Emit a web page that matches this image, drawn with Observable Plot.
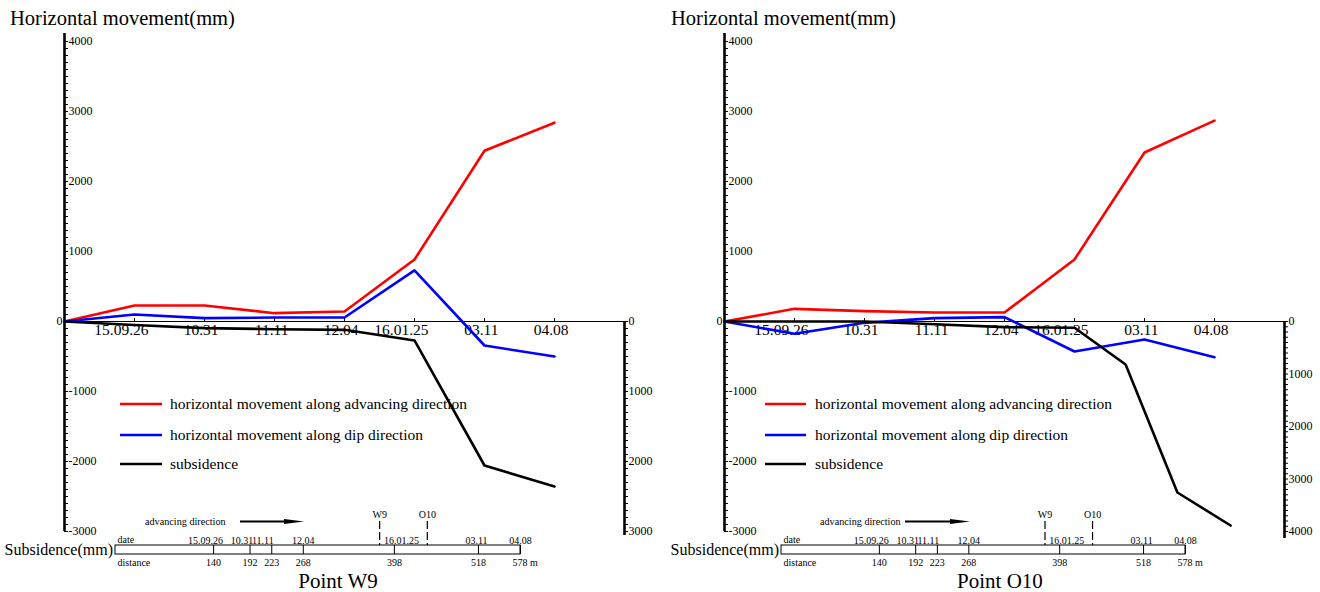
<!DOCTYPE html>
<html><head><meta charset="utf-8">
<script src="https://cdn.jsdelivr.net/npm/d3@7"></script>
<script src="https://cdn.jsdelivr.net/npm/@observablehq/plot@0.6"></script>
<style>
body{margin:0;background:#fff;}
#root{position:relative;width:1320px;height:592px;overflow:hidden;}
.panel{position:absolute;top:0;width:660px;height:592px;}
.panel svg{position:absolute;left:0;top:0;overflow:visible;max-width:none;}
</style></head><body><div id="root"></div>
<script>
// ---------- data ----------
const categories = ["", "15.09.26", "10.31", "11.11", "12.04", "16.01.25", "03.11", "04.08"];
const w9Advancing = [0, 229, 229, 119, 143, 885, 2440, 2840];
const w9Dip = [0, 100, 48, 57, 57, 730, -343, -500];
const w9SubsidencePos = [0, 1, 2, 3, 4, 5, 6, 7];
const w9Subsidence = [0, 50, 95, 110, 119, 271, 2057, 2357];
const o10Advancing = [0, 181, 148, 129, 129, 886, 2414, 2870];
const o10Dip = [0, -176, -19, 48, 62, -429, -257, -510];
const o10SubsidencePos = [0, 1, 2, 3, 4, 5, 5.73, 6.47, 7.23];
const o10Subsidence = [0, 0, 0, 51, 108, 120, 819, 3257, 3886];
const horizontalTicks = [-3000, -2000, -1000, 0, 1000, 2000, 3000, 4000];
const w9SubsidenceTicks = [0, 1000, 2000, 3000];
const o10SubsidenceTicks = [0, 1000, 2000, 3000, 4000];
const timelineDates = ["15.09.26", "10.31", "11.11", "12.04", "16.01.25", "03.11", "04.08"];
const timelineDistances = [140, 192, 223, 268, 398, 518, 578];
const markerNames = ["W9", "O10"];
const markerDistances = [377, 445];
const legendLabels = ["horizontal movement along advancing direction", "horizontal movement along dip direction", "subsidence"];
const seriesColors = ["#ff0000", "#0000ff", "#000000"];

// ---------- layout ----------
const FONT = '"Liberation Serif", "Times New Roman", serif';
const W = 660, H = 592;
const M = {left: 64, right: 36, top: 41, bottom: 61};
const TL = {markLabel: 514, markTop: 521, dateY: 540, barTop: 545, barBot: 554, distY: 562};
const dateLabelNudge = [-8, -8, -9, 0, 7, -2, 0]; // pixel nudges of the date labels above the timeline
const style = {fontFamily: FONT, fontSize: "12px", background: "transparent", overflow: "visible", color: "#000"};

function makePanel(cfg) {
  const div = document.createElement("div");
  div.className = "panel";
  div.style.left = cfg.offset + "px";
  document.getElementById("root").appendChild(div);
  const idx = d3.range(categories.length);
  const base = {width: W, height: H, marginLeft: M.left, marginRight: M.right, marginTop: M.top, marginBottom: M.bottom, style};

  const A = Plot.plot({
    ...base,
    x: {domain: [0, 8], axis: null},
    y: {domain: [-3000, 4000], axis: null},
    marks: [
      Plot.ruleY([0], {y: d => d, x1: () => 0, x2: () => 8, stroke: "#000", strokeWidth: 1}),
      Plot.ruleX(idx.slice(1), {x: d => d, y1: () => 0, y2: () => 0, insetTop: -3, stroke: "#000", strokeWidth: 1}),
      Plot.ruleY(d3.range(-3000, 4001, 100), {y: d => d, x1: () => 0, x2: () => 0, insetRight: -4, stroke: "#000", strokeWidth: 1}),
      Plot.ruleX([0], {x: d => d, y1: () => 4000, y2: () => -3000, insetTop: -8, stroke: "#000", strokeWidth: 2.6}),
      Plot.text(horizontalTicks.filter(t => t !== 0), {y: d => d, frameAnchor: "left", textAnchor: "start", dx: 4, text: d => String(d), fill: "#000", fontSize: 12}),
      Plot.text(horizontalTicks.filter(t => t === 0), {y: d => d, frameAnchor: "left", textAnchor: "end", dx: -2, text: d => String(d), fill: "#000", fontSize: 12}),
      Plot.text(categories.slice(1), {x: (d, i) => i + 1, y: () => 0, text: d => d, textAnchor: "end", dx: 14, lineAnchor: "top", dy: 2, fontSize: 15.5, fill: "#000"}),
      Plot.lineY(cfg.advancing, {x: (d, i) => i, y: d => d, stroke: seriesColors[0], strokeWidth: 2.6}),
      Plot.lineY(cfg.dip, {x: (d, i) => i, y: d => d, stroke: seriesColors[1], strokeWidth: 2.6})
    ]
  });
  div.appendChild(A);

  const yA = A.scale("y");
  const zeroPx = yA.apply(0), botPx = yA.apply(-3000);
  const B = Plot.plot({
    ...base,
    x: {domain: [0, 8], axis: null},
    y: {domain: [0, cfg.subMax], range: [zeroPx, botPx], axis: null},
    marks: [
      Plot.ruleX([8], {x: d => d, y1: () => 0, y2: () => cfg.subMax, insetBottom: -cfg.axisExt, stroke: "#000", strokeWidth: 2.6}),
      Plot.ruleY(d3.range(0, cfg.subMax + 1, 100), {y: d => d, x1: () => 8, x2: () => 8, insetRight: -4, stroke: "#000", strokeWidth: 1}),
      Plot.text(cfg.subTicks, {x: () => 8, y: d => d, textAnchor: "start", dx: 4, text: d => String(d), fill: "#000", fontSize: 12}),
      Plot.line(cfg.sub.map((v, i) => [cfg.subX[i], v]), {stroke: seriesColors[2], strokeWidth: 2.6})
    ]
  });
  div.appendChild(B);

  const maxD = d3.max(timelineDistances);
  const C = Plot.plot({
    width: W, height: H, marginLeft: cfg.tlL, marginRight: W - cfg.tlR, marginTop: 0, marginBottom: 0, style,
    x: {domain: [0, maxD], axis: null},
    y: {domain: [0, H], range: [0, H], axis: null},
    marks: [
      Plot.rect([0], {x1: () => 0, x2: () => maxD, y1: () => TL.barTop, y2: () => TL.barBot, fill: "#fff", stroke: "#000", strokeWidth: 1}),
      Plot.ruleX(timelineDistances, {x: d => d, y1: () => TL.barTop, y2: () => TL.barBot, stroke: "#000", strokeWidth: 1}),
      Plot.ruleX(markerDistances, {x: d => d, y1: () => TL.markTop, y2: () => TL.barTop, stroke: "#000", strokeWidth: 1.2, strokeDasharray: "8,3"}),
      Plot.text(markerNames, {x: (d, i) => markerDistances[i], y: () => TL.markLabel, text: d => d, fontSize: 10, fill: "#000"}),
      ...timelineDates.map((lab, i) => Plot.text([lab], {x: () => timelineDistances[i], y: () => TL.dateY, text: d => d, dx: dateLabelNudge[i], fontSize: 10, fill: "#000"})),
      Plot.text(timelineDistances.slice(0, -1), {x: d => d, y: () => TL.distY, text: d => String(d), fontSize: 10, fill: "#000"}),
      Plot.text(timelineDistances.slice(-1), {x: d => d, y: () => TL.distY, text: d => d + " m", textAnchor: "start", dx: -8, fontSize: 10, fill: "#000"}),
      Plot.text(["date"], {x: () => 0, y: () => TL.dateY - 1, text: d => d, textAnchor: "start", dx: 2, fontSize: 10, fill: "#000"}),
      Plot.text(["distance"], {x: () => 0, y: () => TL.distY, text: d => d, textAnchor: "start", dx: 2, fontSize: 10, fill: "#000"})
    ]
  });
  div.appendChild(C);

  // annotations: titles, legend, arrow
  const s = d3.create("svg").attr("width", W).attr("height", H)
    .attr("font-family", FONT).attr("fill", "#000");
  s.append("text").attr("x", cfg.titleX).attr("y", 25).attr("font-size", 20.5).text("Horizontal movement(mm)");
  s.append("text").attr("x", cfg.tlL - 2).attr("y", 555).attr("text-anchor", "end").attr("font-size", 16).text("Subsidence(mm)");
  s.append("text").attr("x", cfg.pointX).attr("y", 588).attr("text-anchor", "middle").attr("font-size", 21).text(cfg.name);
  const legendY = [404, 435, 464];
  legendLabels.forEach((lab, i) => {
    s.append("line").attr("x1", cfg.legX1).attr("x2", cfg.legX2).attr("y1", legendY[i]).attr("y2", legendY[i])
      .attr("stroke", seriesColors[i]).attr("stroke-width", 2.6);
    s.append("text").attr("x", cfg.legText).attr("y", legendY[i] + 5).attr("font-size", 15.5).text(lab);
  });
  s.append("text").attr("x", cfg.advX).attr("y", 525).attr("font-size", 10.2).text("advancing direction");
  const ay = 521.5;
  s.append("line").attr("x1", cfg.arrX1).attr("x2", cfg.arrX2 - 12).attr("y1", ay).attr("y2", ay).attr("stroke", "#000").attr("stroke-width", 2);
  s.append("path").attr("d", `M${cfg.arrX2 - 20},${ay - 2.5} L${cfg.arrX2},${ay} L${cfg.arrX2 - 20},${ay + 2.5} Z`).attr("fill", "#000");
  div.appendChild(s.node());
}

makePanel({offset: 0, advancing: w9Advancing, dip: w9Dip, subX: w9SubsidencePos, sub: w9Subsidence, subMax: 3000, subTicks: w9SubsidenceTicks, axisExt: 4,
  tlL: 115, tlR: 520, titleX: 10, pointX: 338, name: "Point W9", legX1: 120, legX2: 162, legText: 170, advX: 145, arrX1: 240, arrX2: 304});
makePanel({offset: 660, advancing: o10Advancing, dip: o10Dip, subX: o10SubsidencePos, sub: o10Subsidence, subMax: 4000, subTicks: o10SubsidenceTicks, axisExt: 7,
  tlL: 121, tlR: 525, titleX: 11, pointX: 340, name: "Point O10", legX1: 105, legX2: 146, legText: 155, advX: 160, arrX1: 245, arrX2: 310});
</script></body></html>
